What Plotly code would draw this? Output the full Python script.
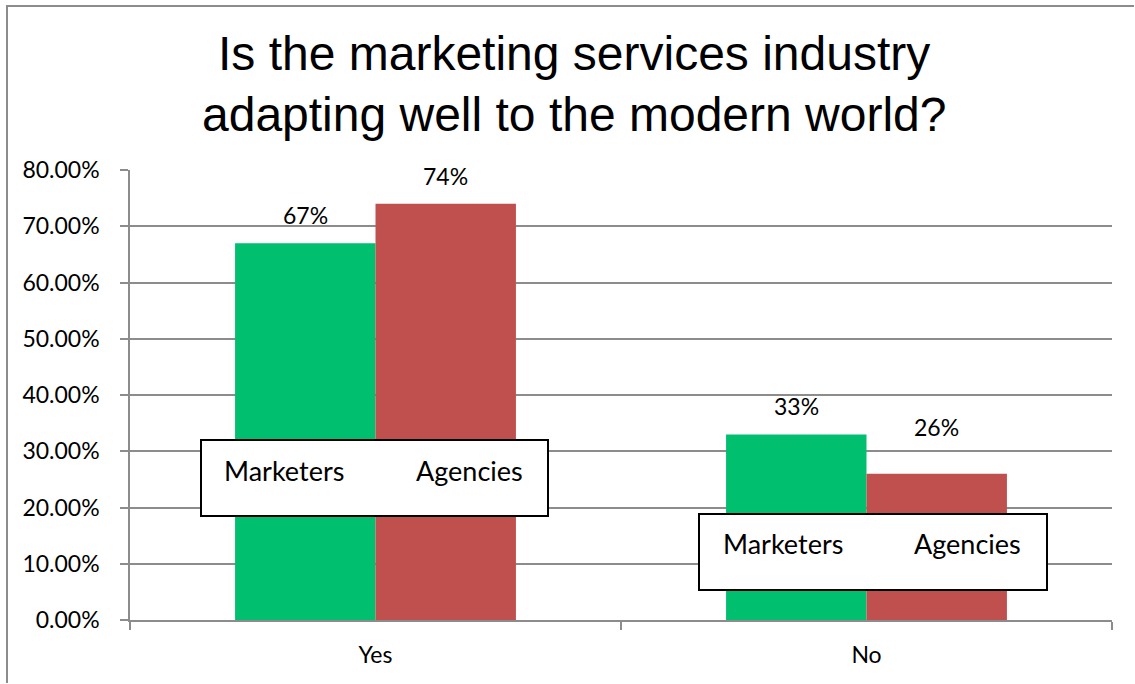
import plotly.graph_objects as go

# Survey results
categories = ["Yes", "No"]
marketers = [0.67, 0.33]
agencies = [0.74, 0.26]
series_names = ["Marketers", "Agencies"]
title_lines = ["Is the marketing services industry", "adapting well to the modern world?"]

W, H = 1135, 684
L, R, T, B = 130, 1112, 170, 620  # plot area in pixels

GREEN = "#00BF6F"
RED = "#C0504D"
GRID = "#8C8C8C"
LABEL_FONT = "Lato"
BARGAP = 0.428


def px_x(p):
    return (p - L) / (R - L)


def px_y(p):
    return (B - p) / (B - T)


fig = go.Figure()
fig.add_trace(go.Bar(x=categories, y=marketers, name=series_names[0],
                     marker=dict(color=GREEN, line=dict(width=0))))
fig.add_trace(go.Bar(x=categories, y=agencies, name=series_names[1],
                     marker=dict(color=RED, line=dict(width=0))))

annotations = []
# value labels above each bar
half = (1 - BARGAP) / 4
label_lift = {("No", 1): 31}
for si, vals in enumerate([marketers, agencies]):
    for ci, (cat, v) in enumerate(zip(categories, vals)):
        annotations.append(dict(
            x=ci + (-half if si == 0 else half), y=v, xref="x", yref="y",
            text=f"{round(v * 100)}%", showarrow=False, yanchor="bottom",
            yshift=label_lift.get((cat, si), 12),
            font=dict(family=LABEL_FONT, size=23, color="#000000")))

# title, two centred lines
for txt, cy in zip(title_lines, [53.5, 114]):
    annotations.append(dict(
        x=px_x(574), y=px_y(cy), xref="paper", yref="paper", text=txt,
        showarrow=False, xanchor="center", yanchor="middle",
        font=dict(family="Liberation Sans, Arial", size=48, color="#000000")))

shapes = []
# outer chart frame: left and top edges, kept inside the canvas
frame = dict(type="line", xref="paper", yref="paper",
             line=dict(color="#8C8C8C", width=2), layer="above")
shapes.append(dict(frame, x0=px_x(7), x1=px_x(7), y0=px_y(6), y1=px_y(H - 1)))
shapes.append(dict(frame, x0=px_x(6), x1=px_x(W - 1), y0=px_y(6), y1=px_y(6)))

# series name boxes
boxes = [
    dict(x0=201, x1=548, y0=440, y1=516, tx=[222, 414], ty=470),
    dict(x0=699, x1=1047, y0=514, y1=590, tx=[721, 912], ty=543),
]
for b in boxes:
    shapes.append(dict(type="rect", xref="paper", yref="paper",
                       x0=px_x(b["x0"]), x1=px_x(b["x1"]),
                       y0=px_y(b["y1"]), y1=px_y(b["y0"]),
                       line=dict(color="#000000", width=2), fillcolor="#FFFFFF",
                       layer="above"))
    for name, tx in zip(series_names, b["tx"]):
        annotations.append(dict(
            x=px_x(tx), y=px_y(b["ty"]), xref="paper", yref="paper", text=name,
            showarrow=False, xanchor="left", yanchor="middle",
            font=dict(family=LABEL_FONT, size=27, color="#000000")))

fig.update_layout(
    width=W, height=H,
    margin=dict(l=L, r=W - R, t=T, b=H - B, pad=0),
    paper_bgcolor="#FFFFFF", plot_bgcolor="#FFFFFF",
    barmode="group", bargap=BARGAP, bargroupgap=0,
    showlegend=False,
    annotations=annotations, shapes=shapes,
    xaxis=dict(
        showline=True, linecolor=GRID, linewidth=1.5,
        ticks="outside", tickson="boundaries", ticklen=8, tickcolor=GRID, tickwidth=1.5,
        showgrid=False, ticklabelstandoff=14,
        tickfont=dict(family=LABEL_FONT, size=23, color="#000000"),
    ),
    yaxis=dict(
        range=[0, 0.8], dtick=0.1, tickformat=".2%",
        showline=True, linecolor=GRID, linewidth=1.5,
        ticks="outside", ticklen=8, tickcolor=GRID, tickwidth=1.5,
        showgrid=True, gridcolor=GRID, gridwidth=1.5,
        zeroline=False, ticklabelstandoff=16,
        tickfont=dict(family=LABEL_FONT, size=23, color="#000000"),
    ),
)

fig.write_html("out.html")
